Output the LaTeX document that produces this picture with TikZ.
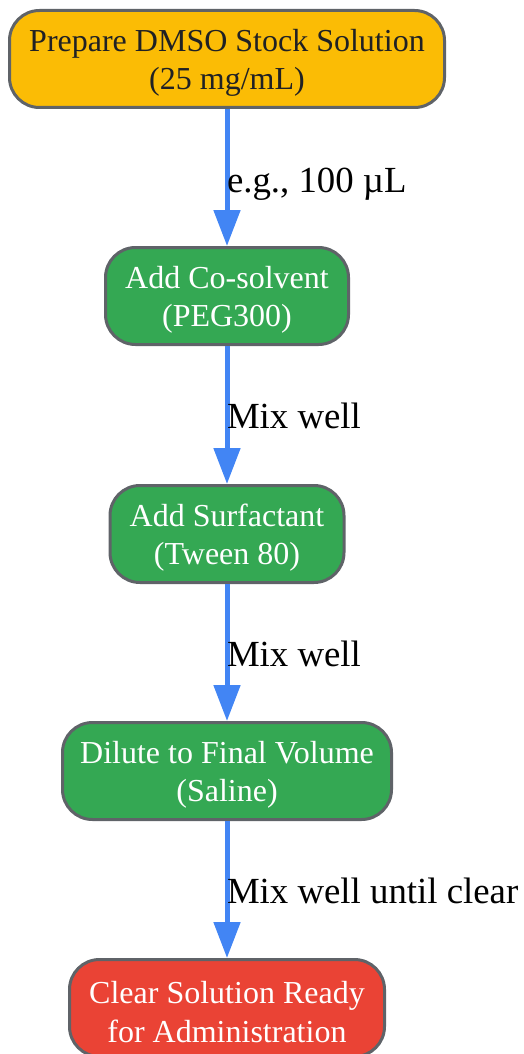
\documentclass[tikz,border=0pt]{standalone}
\usepackage{fontspec}
\setmainfont{Liberation Serif}
\usetikzlibrary{arrows.meta}
\definecolor{gyellow}{HTML}{FBBC05}
\definecolor{ggreen}{HTML}{34A853}
\definecolor{gred}{HTML}{EA4335}
\definecolor{gblue}{HTML}{4285F4}
\definecolor{gborder}{HTML}{5F6368}
\definecolor{gtext}{HTML}{202124}
\newcommand{\tstr}{\rule{0pt}{30pt}}
\begin{document}
\begin{tikzpicture}[x=1pt,y=-1pt,
  box/.style={draw=gborder, line width=3pt, rounded corners=30pt, inner sep=0pt,
    minimum height=97pt, align=center,
    font=\fontsize{32pt}{38.5pt}\selectfont},
  ybox/.style={box, fill=gyellow, text=gtext},
  gbox/.style={box, fill=ggreen, text=white},
  rbox/.style={box, fill=gred, text=white},
  flow/.style={draw=gblue, line width=5pt, -{Triangle[length=36pt,width=26pt]}},
  elabel/.style={anchor=base west, inner sep=0pt, text=black, xshift=-2.5pt, yshift=-13.5pt,
    font=\fontsize{36.8pt}{44pt}\selectfont}
]
\useasboundingbox (0,0) rectangle (523,1054);
\node[ybox, minimum width=435pt] (n1) at (227,59) {\tstr Prepare DMSO Stock Solution\\(25 mg/mL)};
\node[gbox, minimum width=243pt] (n2) at (227,296) {\tstr Add Co-solvent\\(PEG300)};
\node[gbox, minimum width=234pt] (n3) at (227,534) {\tstr Add Surfactant\\(Tween 80)};
\node[gbox, minimum width=329pt] (n4) at (227,771) {\tstr Dilute to Final Volume\\(Saline)};
\node[rbox, minimum width=315pt] (n5) at (227,1008) {\tstr Clear Solution Ready\\for Administration};
\draw[flow] (n1) -- (n2) node[elabel, midway, yshift=-1.5pt] {e.g., 100 µL};
\draw[flow] (n2) -- (n3) node[elabel, midway] {Mix well};
\draw[flow] (n3) -- (n4) node[elabel, midway] {Mix well};
\draw[flow] (n4) -- (n5) node[elabel, midway] {Mix well until clear};
\end{tikzpicture}
\end{document}
